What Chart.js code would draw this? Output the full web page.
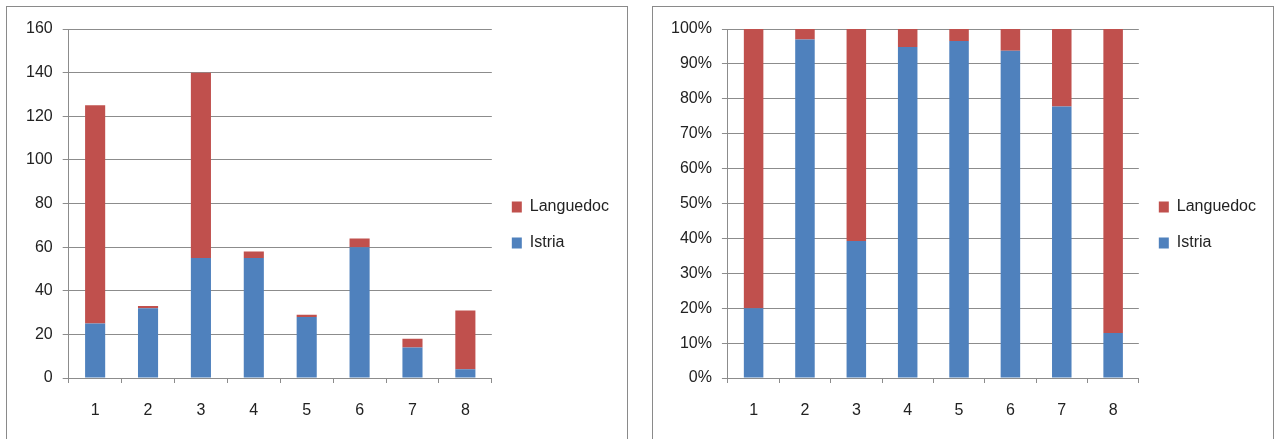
<!DOCTYPE html>
<html>
<head>
<meta charset="utf-8">
<script src="https://cdn.jsdelivr.net/npm/chart.js@4.4.0/dist/chart.umd.min.js"></script>
<style>
    body { margin: 0; background: #fff; width: 1275px; height: 439px; overflow: hidden; position: relative; }
    .panel { position: absolute; top: 6px; height: 450px; border: 1.5px solid #8a8a8a; background: #fff; }
    #p1 { left: 6px; width: 620px; }
    #p2 { left: 652px; width: 620px; }
    .box { position: absolute; left: 0; top: 0; width: 620px; height: 416px; }
</style>
</head>
<body>
<div class="panel" id="p1"><div class="box"><canvas id="absChart"></canvas></div></div>
<div class="panel" id="p2"><div class="box"><canvas id="pctChart"></canvas></div></div>
<script>
// Data
const categories = ['1', '2', '3', '4', '5', '6', '7', '8'];
const istria = [25, 32, 55, 55, 28, 60, 14, 4];
const languedoc = [100, 1, 85, 3, 1, 4, 4, 27];

const blue = '#4F81BD';
const red = '#C0504D';
const gridGray = '#8c8c8c';
const fontFamily = "'Liberation Sans', Arial, sans-serif";

// share of each region per category (100% stacked)
const totals = istria.map((v, i) => v + languedoc[i]);
const istriaPct = istria.map((v, i) => v / totals[i] * 100);
const languedocPct = languedoc.map((v, i) => v / totals[i] * 100);

Chart.defaults.font.family = fontFamily;
Chart.defaults.font.size = 16;
Chart.defaults.color = '#222';

function buildOptions(yMax, yStep, yFmt, padLeft, padRight) {
    return {
        responsive: true,
        maintainAspectRatio: false,
        animation: false,
        layout: { padding: { left: padLeft, top: 22, right: padRight, bottom: 2 } },
        plugins: {
            tooltip: { enabled: false },
            legend: {
                position: 'right',
                reverse: true,
                labels: {
                    boxWidth: 10,
                    boxHeight: 11,
                    padding: 20,
                    font: { size: 16 },
                    color: '#222'
                }
            }
        },
        scales: {
            x: {
                stacked: true,
                grid: { drawOnChartArea: false, drawTicks: true, tickLength: 5, color: gridGray },
                border: { color: gridGray },
                ticks: { padding: 18 },
                // keep the axis band tight so the legend stays centred
                afterFit: scale => { scale.height = 43; }
            },
            y: {
                stacked: true,
                min: 0,
                max: yMax,
                grid: { color: gridGray, tickLength: 6 },
                border: { color: gridGray },
                ticks: { stepSize: yStep, padding: 10, callback: yFmt }
            }
        }
    };
}

function buildData(a, b) {
    return {
        labels: categories,
        datasets: [
            { label: 'Istria', data: a, backgroundColor: blue, categoryPercentage: 1, barPercentage: 0.38 },
            { label: 'Languedoc', data: b, backgroundColor: red, categoryPercentage: 1, barPercentage: 0.38 }
        ]
    };
}

new Chart(document.getElementById('absChart'), {
    type: 'bar',
    data: buildData(istria, languedoc),
    options: buildOptions(160, 20, v => v, 9, 8)
});

new Chart(document.getElementById('pctChart'), {
    type: 'bar',
    data: buildData(istriaPct, languedocPct),
    options: buildOptions(100, 10, v => v + '%', 8, 7)
});
</script>
</body>
</html>
